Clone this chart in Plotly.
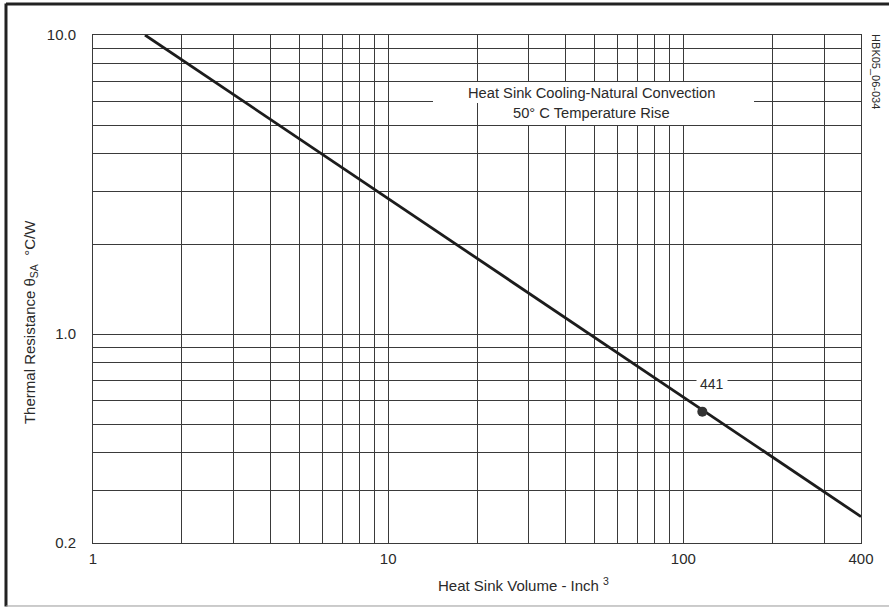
import plotly.graph_objects as go

# ---- data ----
line_x = [1.5, 400]
line_y = [10.0, 0.245]
point_x = [116]
point_y = [0.55]
point_label = "441"

x_tick_vals = [1, 10, 100, 400]
x_tick_text = ["1", "10", "100", "400"]
x_minor_vals = [2, 3, 4, 5, 6, 7, 8, 9, 20, 30, 40, 50, 60, 70, 80, 90, 200, 300]
y_tick_vals = [0.2, 1, 10]
y_tick_text = ["0.2", "1.0", "10.0"]
y_minor_vals = [0.3, 0.4, 0.5, 0.6, 0.7, 0.8, 0.9, 2, 3, 4, 5, 6, 7, 8, 9]

title_line1 = "Heat Sink Cooling-Natural Convection"
title_line2 = "50° C Temperature Rise"
x_title = "Heat Sink Volume - Inch <sup>3</sup>"
y_title = "Thermal Resistance θ<sub>SA</sub>  °C/W"
doc_id = "HBK05_06-034"

FONT = "Liberation Sans, Arial, sans-serif"
GRID = "#3a3a3a"
TXT = "#2a2a2a"

fig = go.Figure()
fig.add_trace(go.Scatter(x=line_x, y=line_y, mode="lines",
                         line=dict(color="#1c1c1c", width=2.8), hoverinfo="skip"))
fig.add_trace(go.Scatter(x=point_x, y=point_y, mode="markers",
                         marker=dict(color="#333333", size=10), hoverinfo="skip"))

fig.update_layout(
    width=889, height=607,
    margin=dict(l=93, r=28, t=35, b=64),
    paper_bgcolor="white", plot_bgcolor="white",
    showlegend=False,
    font=dict(family=FONT, color=TXT, size=15),
)
fig.update_xaxes(type="log", range=[0, 2.60206], tickvals=x_tick_vals, ticktext=x_tick_text,
                 showgrid=True, gridcolor=GRID, gridwidth=1,
                 minor=dict(tickvals=x_minor_vals, showgrid=True, gridcolor=GRID, gridwidth=1, ticks=""),
                 showline=True, linecolor=GRID, linewidth=1, mirror=True,
                 ticks="", tickfont=dict(size=15, color=TXT), ticklabelstandoff=2,
                 zeroline=False)
fig.update_yaxes(type="log", range=[-0.69897, 1], tickvals=y_tick_vals, ticktext=y_tick_text,
                 showgrid=True, gridcolor=GRID, gridwidth=1,
                 minor=dict(tickvals=y_minor_vals, showgrid=True, gridcolor=GRID, gridwidth=1, ticks=""),
                 showline=True, linecolor=GRID, linewidth=1, mirror=True,
                 ticks="", tickfont=dict(size=15, color=TXT), ticklabelstandoff=13,
                 zeroline=False)

# white boxes behind the header text
fig.add_shape(type="rect", xref="paper", yref="paper", x0=0.4427, x1=0.8607, y0=0.8661, y1=0.9075,
              fillcolor="white", line=dict(width=0), layer="above")
fig.add_shape(type="rect", xref="paper", yref="paper", x0=0.5104, x1=0.7773, y0=0.8228, y1=0.8661,
              fillcolor="white", line=dict(width=0), layer="above")

fig.add_annotation(xref="paper", yref="paper", x=0.6497, y=0.8858, text=title_line1,
                   xanchor="center", yanchor="middle",
                   showarrow=False, font=dict(size=14.7, color=TXT))
fig.add_annotation(xref="paper", yref="paper", x=0.6497, y=0.8470, text=title_line2,
                   xanchor="center", yanchor="middle",
                   showarrow=False, font=dict(size=14.7, color=TXT))

fig.add_annotation(x=2.0607, y=-0.2596, xref="x", yref="y", text=point_label, showarrow=False,
                   xanchor="center", yanchor="middle",
                   bgcolor="white", borderpad=3, xshift=11, yshift=28,
                   font=dict(size=14, color=TXT))

# axis titles
fig.add_annotation(xref="paper", yref="paper", x=0.560, y=-0.0825, text=x_title,
                   xanchor="center", yanchor="middle",
                   showarrow=False, font=dict(size=15, color=TXT))
fig.add_annotation(xref="paper", yref="paper", x=-0.082, y=0.435, text=y_title, textangle=-90,
                   xanchor="center", yanchor="middle",
                   showarrow=False, font=dict(size=15, color=TXT))

# document id
fig.add_annotation(xref="paper", yref="paper", x=1.0195, y=0.927, text=doc_id, textangle=90,
                   xanchor="center", yanchor="middle",
                   showarrow=False, font=dict(size=11, color=TXT))

# outer frame
fig.add_shape(type="line", xref="paper", yref="paper", x0=-0.1133, x1=-0.1133, y0=-0.125, y1=1.062,
              line=dict(color="#222222", width=3))
fig.add_shape(type="line", xref="paper", yref="paper", x0=-0.1133, x1=1.05, y0=1.0610, y1=1.0610,
              line=dict(color="#222222", width=3))
fig.add_shape(type="line", xref="paper", yref="paper", x0=-0.1133, x1=1.05, y0=-0.1240, y1=-0.1240,
              line=dict(color="#999999", width=1))

fig.write_html("out.html", config={"displayModeBar": False},
               post_script="document.body.style.margin='0px';")
